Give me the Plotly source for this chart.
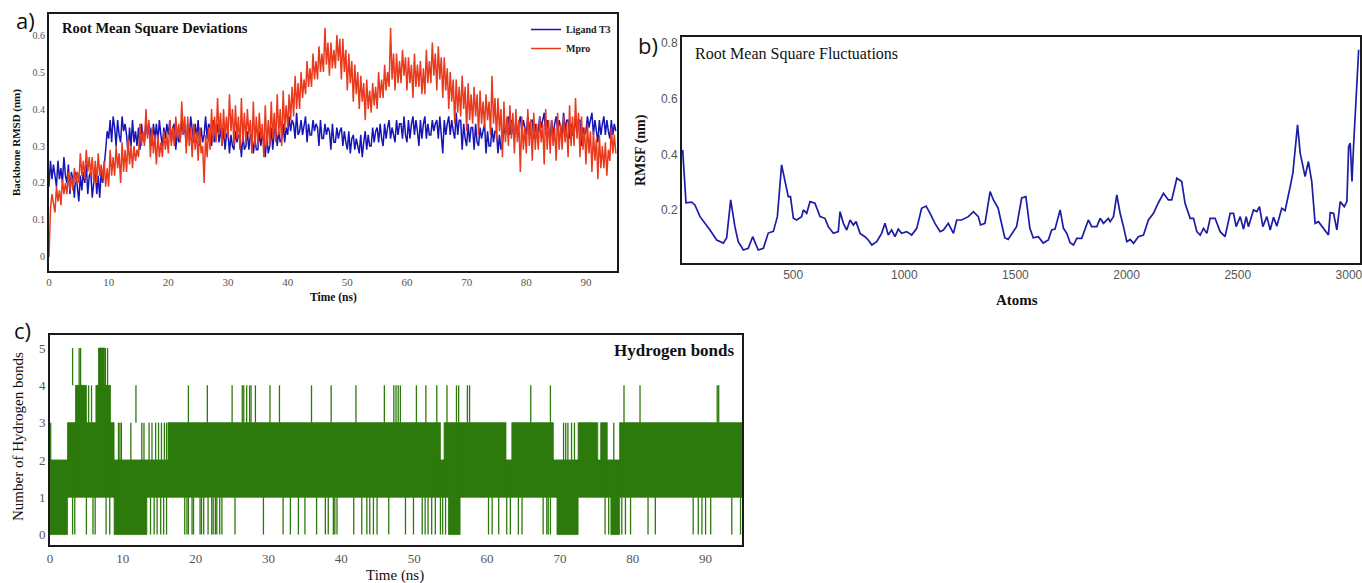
import numpy as np
import plotly.graph_objects as go

# ---------------- DATA ----------------
# a) RMSD (nm), sampled every 0.25 ns from 0 to 95 ns (one row per ns)
rmsd_ligand = [
    0.19, 0.26, 0.21, 0.25,  0.22, 0.19, 0.26, 0.21,  0.24, 0.20, 0.27, 0.22,  0.20, 0.25, 0.17, 0.23,
    0.21, 0.16, 0.23, 0.19,  0.15, 0.22, 0.18, 0.23,  0.20, 0.25, 0.17, 0.22,  0.23, 0.16, 0.21, 0.24,
    0.17, 0.22, 0.16, 0.23,  0.20, 0.26, 0.29, 0.34,  0.32, 0.37, 0.31, 0.38,  0.35, 0.30, 0.37, 0.33,
    0.31, 0.38, 0.34, 0.36,  0.33, 0.28, 0.35, 0.30,  0.37, 0.31, 0.34, 0.30,  0.35, 0.29, 0.36, 0.32,
    0.31, 0.37, 0.33, 0.36,  0.34, 0.30, 0.36, 0.32,  0.36, 0.31, 0.37, 0.33,  0.30, 0.35, 0.32, 0.36,
    0.33, 0.37, 0.31, 0.35,  0.36, 0.29, 0.34, 0.31,  0.32, 0.37, 0.33, 0.36,  0.30, 0.36, 0.32, 0.38,
    0.34, 0.31, 0.36, 0.32,  0.37, 0.30, 0.35, 0.31,  0.33, 0.38, 0.32, 0.36,  0.35, 0.30, 0.37, 0.31,
    0.33, 0.36, 0.31, 0.35,  0.30, 0.35, 0.29, 0.33,  0.34, 0.28, 0.33, 0.30,  0.29, 0.34, 0.31, 0.33,
    0.32, 0.27, 0.33, 0.29,  0.30, 0.34, 0.29, 0.33,  0.33, 0.28, 0.32, 0.29,  0.29, 0.34, 0.30, 0.33,
    0.31, 0.27, 0.33, 0.28,  0.30, 0.35, 0.29, 0.34,  0.35, 0.30, 0.34, 0.31,  0.32, 0.36, 0.31, 0.35,
    0.33, 0.38, 0.34, 0.37,  0.36, 0.32, 0.39, 0.33,  0.34, 0.37, 0.33, 0.36,  0.38, 0.31, 0.36, 0.33,
    0.33, 0.37, 0.34, 0.36,  0.35, 0.30, 0.37, 0.32,  0.32, 0.36, 0.33, 0.35,  0.34, 0.29, 0.36, 0.31,
    0.31, 0.35, 0.32, 0.34,  0.35, 0.30, 0.34, 0.31,  0.29, 0.34, 0.28, 0.32,  0.33, 0.29, 0.32, 0.30,
    0.28, 0.33, 0.27, 0.31,  0.34, 0.29, 0.33, 0.30,  0.30, 0.35, 0.31, 0.34,  0.35, 0.31, 0.36, 0.32,
    0.30, 0.36, 0.32, 0.35,  0.37, 0.32, 0.35, 0.33,  0.31, 0.37, 0.33, 0.36,  0.36, 0.32, 0.38, 0.33,
    0.31, 0.37, 0.32, 0.36,  0.38, 0.33, 0.37, 0.34,  0.30, 0.37, 0.32, 0.36,  0.38, 0.32, 0.36, 0.33,
    0.33, 0.37, 0.34, 0.36,  0.37, 0.32, 0.38, 0.33,  0.28, 0.37, 0.33, 0.36,  0.38, 0.33, 0.37, 0.34,
    0.32, 0.39, 0.33, 0.37,  0.37, 0.29, 0.36, 0.32,  0.30, 0.36, 0.31, 0.35,  0.35, 0.29, 0.36, 0.31,
    0.30, 0.35, 0.32, 0.34,  0.36, 0.28, 0.34, 0.30,  0.30, 0.35, 0.31, 0.34,  0.34, 0.28, 0.33, 0.29,
    0.31, 0.35, 0.33, 0.36,  0.38, 0.33, 0.37, 0.34,  0.32, 0.37, 0.33, 0.36,  0.38, 0.34, 0.37, 0.35,
    0.33, 0.38, 0.34, 0.37,  0.37, 0.32, 0.36, 0.33,  0.34, 0.38, 0.35, 0.37,  0.39, 0.33, 0.37, 0.34,
    0.32, 0.37, 0.33, 0.36,  0.38, 0.34, 0.37, 0.35,  0.33, 0.39, 0.34, 0.37,  0.37, 0.32, 0.36, 0.33,
    0.33, 0.38, 0.34, 0.37,  0.37, 0.30, 0.35, 0.33,  0.34, 0.38, 0.35, 0.37,  0.39, 0.33, 0.37, 0.34,
    0.31, 0.37, 0.33, 0.36,  0.38, 0.33, 0.37, 0.34,  0.32, 0.37, 0.33, 0.36,
    0.34,
]
rmsd_mpro = [
    0.00, 0.13, 0.17, 0.14,  0.12, 0.19, 0.15, 0.18,  0.14, 0.21, 0.17, 0.20,  0.17, 0.23, 0.18, 0.22,
    0.18, 0.24, 0.20, 0.23,  0.20, 0.28, 0.22, 0.26,  0.21, 0.29, 0.23, 0.27,  0.22, 0.27, 0.20, 0.26,
    0.20, 0.28, 0.22, 0.25,  0.21, 0.26, 0.19, 0.24,  0.19, 0.29, 0.22, 0.27,  0.22, 0.30, 0.24, 0.28,
    0.20, 0.31, 0.23, 0.29,  0.23, 0.32, 0.25, 0.30,  0.24, 0.30, 0.26, 0.29,  0.27, 0.36, 0.30, 0.34,
    0.30, 0.40, 0.32, 0.37,  0.27, 0.35, 0.28, 0.33,  0.25, 0.33, 0.27, 0.31,  0.27, 0.34, 0.29, 0.33,
    0.28, 0.37, 0.30, 0.35,  0.30, 0.38, 0.32, 0.36,  0.31, 0.42, 0.33, 0.38,  0.28, 0.38, 0.30, 0.35,
    0.27, 0.36, 0.29, 0.34,  0.26, 0.35, 0.28, 0.30,  0.20, 0.33, 0.27, 0.35,  0.29, 0.40, 0.31, 0.38,
    0.31, 0.43, 0.33, 0.39,  0.30, 0.40, 0.32, 0.38,  0.32, 0.44, 0.34, 0.40,  0.30, 0.41, 0.32, 0.38,
    0.29, 0.43, 0.31, 0.39,  0.31, 0.40, 0.33, 0.37,  0.28, 0.42, 0.30, 0.38,  0.30, 0.39, 0.32, 0.36,
    0.27, 0.41, 0.30, 0.37,  0.30, 0.42, 0.32, 0.39,  0.31, 0.44, 0.33, 0.40,  0.30, 0.45, 0.34, 0.41,
    0.35, 0.44, 0.37, 0.46,  0.38, 0.49, 0.40, 0.47,  0.40, 0.50, 0.43, 0.48,  0.44, 0.53, 0.46, 0.51,
    0.46, 0.55, 0.48, 0.53,  0.48, 0.57, 0.50, 0.55,  0.50, 0.62, 0.52, 0.58,  0.49, 0.58, 0.51, 0.56,
    0.51, 0.60, 0.53, 0.59,  0.48, 0.59, 0.50, 0.56,  0.45, 0.55, 0.47, 0.53,  0.42, 0.52, 0.44, 0.50,
    0.40, 0.49, 0.42, 0.47,  0.37, 0.48, 0.40, 0.45,  0.39, 0.47, 0.41, 0.46,  0.40, 0.50, 0.43, 0.48,
    0.43, 0.52, 0.45, 0.50,  0.46, 0.62, 0.48, 0.55,  0.45, 0.55, 0.47, 0.53,  0.47, 0.56, 0.49, 0.54,
    0.45, 0.54, 0.47, 0.52,  0.43, 0.55, 0.46, 0.52,  0.46, 0.53, 0.44, 0.51,  0.44, 0.56, 0.47, 0.53,
    0.47, 0.58, 0.49, 0.55,  0.45, 0.57, 0.48, 0.54,  0.43, 0.54, 0.45, 0.51,  0.40, 0.50, 0.42, 0.48,
    0.36, 0.48, 0.39, 0.46,  0.38, 0.49, 0.40, 0.46,  0.34, 0.47, 0.37, 0.44,  0.36, 0.46, 0.38, 0.44,
    0.33, 0.45, 0.36, 0.42,  0.35, 0.44, 0.37, 0.42,  0.33, 0.49, 0.36, 0.43,  0.32, 0.43, 0.34, 0.40,
    0.27, 0.42, 0.31, 0.38,  0.30, 0.41, 0.32, 0.39,  0.28, 0.40, 0.31, 0.37,  0.23, 0.38, 0.29, 0.35,
    0.28, 0.40, 0.30, 0.37,  0.26, 0.39, 0.29, 0.36,  0.29, 0.38, 0.31, 0.36,  0.25, 0.40, 0.29, 0.37,
    0.28, 0.37, 0.30, 0.35,  0.26, 0.39, 0.29, 0.36,  0.29, 0.38, 0.31, 0.36,  0.27, 0.41, 0.30, 0.38,
    0.30, 0.43, 0.32, 0.39,  0.27, 0.38, 0.29, 0.35,  0.25, 0.36, 0.28, 0.34,  0.23, 0.34, 0.26, 0.32,
    0.21, 0.33, 0.24, 0.30,  0.24, 0.31, 0.22, 0.29,  0.26, 0.35, 0.28, 0.33,
    0.28,
]
rmsd_time = np.linspace(0, 95, len(rmsd_ligand))

# b) RMSF (nm) per atom
rmsf_atoms = [3, 18, 43, 58, 81, 104, 126, 156, 186, 201, 219, 238, 253, 276, 298, 318, 343, 366, 388, 411,
              429, 448, 463, 478, 488, 501, 516, 538, 546, 561, 576, 598, 621, 643, 658, 681, 703, 711, 726, 741,
              756, 771, 783, 801, 823, 838, 854, 876, 898, 913, 928, 943, 958, 973, 988, 1011, 1033, 1056, 1078, 1098,
              1116, 1138, 1161, 1176, 1198, 1221, 1236, 1258, 1288, 1311, 1333, 1343, 1363, 1386, 1401, 1422, 1437, 1452, 1467, 1505,
              1528, 1547, 1565, 1580, 1603, 1625, 1648, 1663, 1678, 1701, 1716, 1731, 1746, 1761, 1776, 1798, 1828, 1843, 1866, 1881,
              1896, 1918, 1926, 1941, 1956, 1971, 1986, 2001, 2016, 2031, 2053, 2076, 2098, 2121, 2143, 2166, 2188, 2203, 2226, 2248,
              2263, 2286, 2301, 2316, 2331, 2346, 2361, 2376, 2398, 2421, 2443, 2466, 2481, 2493, 2511, 2526, 2538, 2548, 2571, 2586,
              2598, 2613, 2631, 2646, 2661, 2676, 2698, 2713, 2736, 2748, 2769, 2781, 2803, 2818, 2833, 2848, 2863, 2886, 2908, 2916,
              2931, 2946, 2961, 2979, 2991, 2999, 3006, 3014, 3021, 3044]
rmsf_values = [0.416, 0.226, 0.228, 0.218, 0.176, 0.153, 0.128, 0.092, 0.081, 0.100, 0.236, 0.140, 0.086, 0.056, 0.062, 0.104, 0.056, 0.062, 0.117, 0.123,
               0.176, 0.362, 0.308, 0.248, 0.248, 0.170, 0.164, 0.176, 0.200, 0.188, 0.230, 0.224, 0.176, 0.170, 0.140, 0.116, 0.122, 0.194, 0.152, 0.128,
               0.164, 0.146, 0.158, 0.116, 0.104, 0.092, 0.074, 0.086, 0.116, 0.152, 0.110, 0.128, 0.104, 0.131, 0.116, 0.122, 0.110, 0.134, 0.206, 0.214,
               0.188, 0.152, 0.122, 0.128, 0.152, 0.116, 0.164, 0.164, 0.176, 0.194, 0.176, 0.146, 0.152, 0.266, 0.236, 0.207, 0.153, 0.100, 0.094, 0.140,
               0.243, 0.248, 0.134, 0.100, 0.104, 0.081, 0.092, 0.128, 0.131, 0.200, 0.134, 0.116, 0.082, 0.074, 0.098, 0.098, 0.164, 0.140, 0.140, 0.170,
               0.152, 0.170, 0.158, 0.176, 0.254, 0.188, 0.140, 0.086, 0.094, 0.080, 0.104, 0.110, 0.164, 0.188, 0.226, 0.260, 0.236, 0.236, 0.314, 0.302,
               0.224, 0.170, 0.170, 0.122, 0.110, 0.134, 0.116, 0.170, 0.170, 0.122, 0.104, 0.188, 0.188, 0.140, 0.176, 0.131, 0.176, 0.140, 0.200, 0.194,
               0.212, 0.140, 0.176, 0.128, 0.174, 0.142, 0.206, 0.198, 0.284, 0.332, 0.506, 0.404, 0.320, 0.374, 0.302, 0.152, 0.158, 0.134, 0.110, 0.190,
               0.188, 0.128, 0.230, 0.212, 0.230, 0.428, 0.440, 0.302, 0.428, 0.776]

# c) Hydrogen bonds: dense switching ranges (start ns, end ns, min count, max count)
hb_seg_start = [0.0, 2.4, 3.5, 5.0, 6.3, 8.3, 8.8, 13.3, 16.2, 53.6, 54.1, 54.7, 56.3, 62.6, 63.4, 69.1, 69.6, 72.5, 75.2, 75.6, 76.5, 77.0, 78.2]
hb_seg_end   = [2.4, 3.5, 5.0, 6.3, 8.3, 8.8, 13.3, 16.2, 53.6, 54.1, 54.7, 56.3, 62.6, 63.4, 69.1, 69.6, 72.5, 75.2, 75.6, 76.5, 77.0, 78.2, 95.0]
hb_seg_lo    = [0, 1, 1, 1, 1, 1, 0, 1, 1, 1, 1, 0, 1, 1, 1, 1, 0, 1, 1, 1, 1, 0, 1]
hb_seg_hi    = [2, 3, 4, 3, 4, 3, 2, 2, 3, 2, 3, 3, 3, 2, 3, 2, 2, 3, 2, 3, 2, 2, 3]
hb_block5 = [6.7, 7.5]  # dense excursions up to 5 bonds
# isolated excursions
hb_to0 = [3.1, 3.4, 5.0, 5.9, 6.2, 7.7, 8.2, 13.8, 14.3, 14.7, 15.2, 15.6, 16.0, 18.5, 18.8, 19.0, 19.5, 19.7,
          20.6, 20.8, 21.1, 21.7, 22.2, 22.4, 22.7, 22.9, 23.3, 23.6, 25.4, 29.3, 32.0, 33.0, 34.1, 35.0, 36.6,
          37.8, 38.2, 38.9, 39.1, 39.4, 41.7, 42.8, 43.5, 43.9, 44.4, 44.9, 46.5, 48.8, 49.9, 51.1, 51.5, 51.9,
          52.4, 52.9, 53.6, 53.9, 54.3, 60.2, 60.7, 61.6, 62.7, 63.2, 64.3, 64.8, 67.7, 68.2, 68.4, 68.7, 76.2,
          76.7, 78.5, 79.0, 79.7, 82.1, 83.1, 88.3, 89.0, 89.5, 90.0, 90.7, 93.6, 94.8]
hb_to3 = [0.1, 9.4, 9.6, 9.8, 11.1, 12.6, 12.9, 13.6, 14.0, 14.5, 14.9, 15.3, 15.7, 16.0, 70.5, 70.8, 71.1,
          71.6, 72.0, 77.4]
hb_to4 = [5.3, 5.7, 11.8, 19.0, 21.6, 25.0, 26.4, 26.6, 27.0, 27.4, 27.6, 28.2, 30.2, 31.5, 35.9, 38.6, 42.0,
          45.9, 47.2, 47.5, 47.8, 48.1, 50.3, 51.6, 53.1, 54.5, 55.8, 56.1, 57.3, 57.6, 66.0, 68.7, 78.8, 81.0,
          91.6, 91.8]
hb_to5 = [3.1, 4.0, 4.2, 6.7, 6.9, 7.1, 7.3, 7.6, 7.9]

# ---------------- FIGURE ----------------
W, H = 1362, 583
def fx(p): return p / W
def fy(p): return 1 - p / H

BLUE = "#1616b8"
RED = "#ea3a1e"
NAVY = "#1c1ca6"
GREEN = "#2d7a0c"
SERIF = "Liberation Serif"
SANS = "Liberation Sans"

fig = go.Figure()
fig.add_trace(go.Scatter(x=rmsd_time, y=rmsd_ligand, mode="lines", name="<b>Ligand T3</b>",
                         line=dict(color=BLUE, width=1.5), xaxis="x", yaxis="y"))
fig.add_trace(go.Scatter(x=rmsd_time, y=rmsd_mpro, mode="lines", name="<b>Mpro</b>",
                         line=dict(color=RED, width=1.5), xaxis="x", yaxis="y"))
fig.add_trace(go.Scatter(x=rmsf_atoms, y=rmsf_values, mode="lines", showlegend=False,
                         line=dict(color=NAVY, width=1.7), xaxis="x2", yaxis="y2"))

# hydrogen bond dense ranges as filled blocks
bx, by = [], []
for s, e, lo, hi in zip(hb_seg_start, hb_seg_end, hb_seg_lo, hb_seg_hi):
    bx += [s, e, e, s, s, None]
    by += [lo, lo, hi, hi, lo, None]
bx += [hb_block5[0], hb_block5[1], hb_block5[1], hb_block5[0], hb_block5[0], None]
by += [4, 4, 5, 5, 4, None]
fig.add_trace(go.Scatter(x=bx, y=by, mode="lines", fill="toself", fillcolor=GREEN,
                         line=dict(color=GREEN, width=0.8), showlegend=False, xaxis="x3", yaxis="y3"))
sx, sy = [], []
for lst, a, b in [(hb_to0, 1, 0), (hb_to3, 2, 3), (hb_to4, 3, 4), (hb_to5, 4, 5)]:
    for t in lst:
        sx += [t, t, None]
        sy += [a, b, None]
fig.add_trace(go.Scatter(x=sx, y=sy, mode="lines", line=dict(color=GREEN, width=1.3),
                         showlegend=False, xaxis="x3", yaxis="y3"))

frame = dict(showline=True, mirror=True, linecolor="#1a1a1a", linewidth=2, showgrid=False,
             zeroline=False, ticks="", automargin=False, ticklabeloverflow="allow")

fig.update_layout(
    width=W, height=583, margin=dict(l=0, r=0, t=0, b=0, autoexpand=False),
    paper_bgcolor="white", plot_bgcolor="white",
    xaxis=dict(domain=[fx(49), fx(617)], range=[0, 95.2], anchor="y",
               tickvals=list(range(0, 91, 10)),
               tickfont=dict(family=SERIF, size=11, color="#555"), **frame),
    yaxis=dict(domain=[fy(271), fy(14)], range=[-0.038, 0.657], anchor="x",
               tickvals=[0, 0.1, 0.2, 0.3, 0.4, 0.5, 0.6],
               ticktext=["0", "0.1", "0.2", "0.3", "0.4", "0.5", "0.6"],
               tickfont=dict(family=SERIF, size=10, color="#555"), **frame),
    xaxis2=dict(domain=[fx(682), fx(1360)], range=[0, 3050], anchor="y2",
                tickvals=[500, 1000, 1500, 2000, 2500, 3000],
                tickfont=dict(family=SANS, size=12, color="#555"), **frame),
    yaxis2=dict(domain=[fy(263), fy(37)], range=[0.0094, 0.8216], anchor="x2",
                tickvals=[0.2, 0.4, 0.6, 0.8], ticktext=["0.2", "0.4", "0.6", "0.8"],
                tickfont=dict(family=SANS, size=12, color="#555"), **frame),
    xaxis3=dict(domain=[fx(50), fx(742)], range=[0, 95], anchor="y3",
                tickvals=list(range(0, 91, 10)),
                tickfont=dict(family=SERIF, size=13, color="#555"), **frame),
    yaxis3=dict(domain=[fy(545), fy(335)], range=[-0.28, 5.35], anchor="x3",
                tickvals=[0, 1, 2, 3, 4, 5],
                tickfont=dict(family=SERIF, size=13, color="#555"), **frame),
    legend=dict(x=fx(616), y=fy(15), xanchor="right", yanchor="top",
                bgcolor="rgba(0,0,0,0)", font=dict(family=SERIF, size=10, color="#222"),
                tracegroupgap=0, itemwidth=30),
)

def ann(text, x, y, size, family=SERIF, bold=False, xanchor="center", angle=0, color="#111"):
    t = f"<b>{text}</b>" if bold else text
    fig.add_annotation(text=t, x=fx(x), y=fy(y), xref="paper", yref="paper", showarrow=False,
                       xanchor=xanchor, yanchor="middle", textangle=angle,
                       font=dict(family=family, size=size, color=color))

ann("a)", 25, 20, 22, family="Open Sans")
ann("b)", 648, 45, 22, family="Open Sans")
ann("c)", 22, 330, 22, family="Open Sans")

ann("Root Mean Square Deviations", 60, 28, 14.5, bold=True, xanchor="left")
ann("Time (ns)", 333, 297, 11.5, bold=True)
ann("Backbone RMSD (nm)", 17, 143, 11, bold=True, angle=-90)

ann("Root Mean Square Fluctuations", 693, 54, 16, xanchor="left")
ann("Atoms", 1017, 300, 15, bold=True)
ann("RMSF (nm)", 641, 150, 14, bold=True, angle=-90)

ann("Hydrogen bonds", 737, 350, 17, bold=True, xanchor="right")
ann("Time (ns)", 395, 575, 15)
ann("Number of Hydrogen bonds", 18, 437, 15, angle=-90)

fig.write_html("out.html", config={"displayModeBar": False},
               post_script="document.body.style.margin='0';document.body.style.overflow='hidden';")
